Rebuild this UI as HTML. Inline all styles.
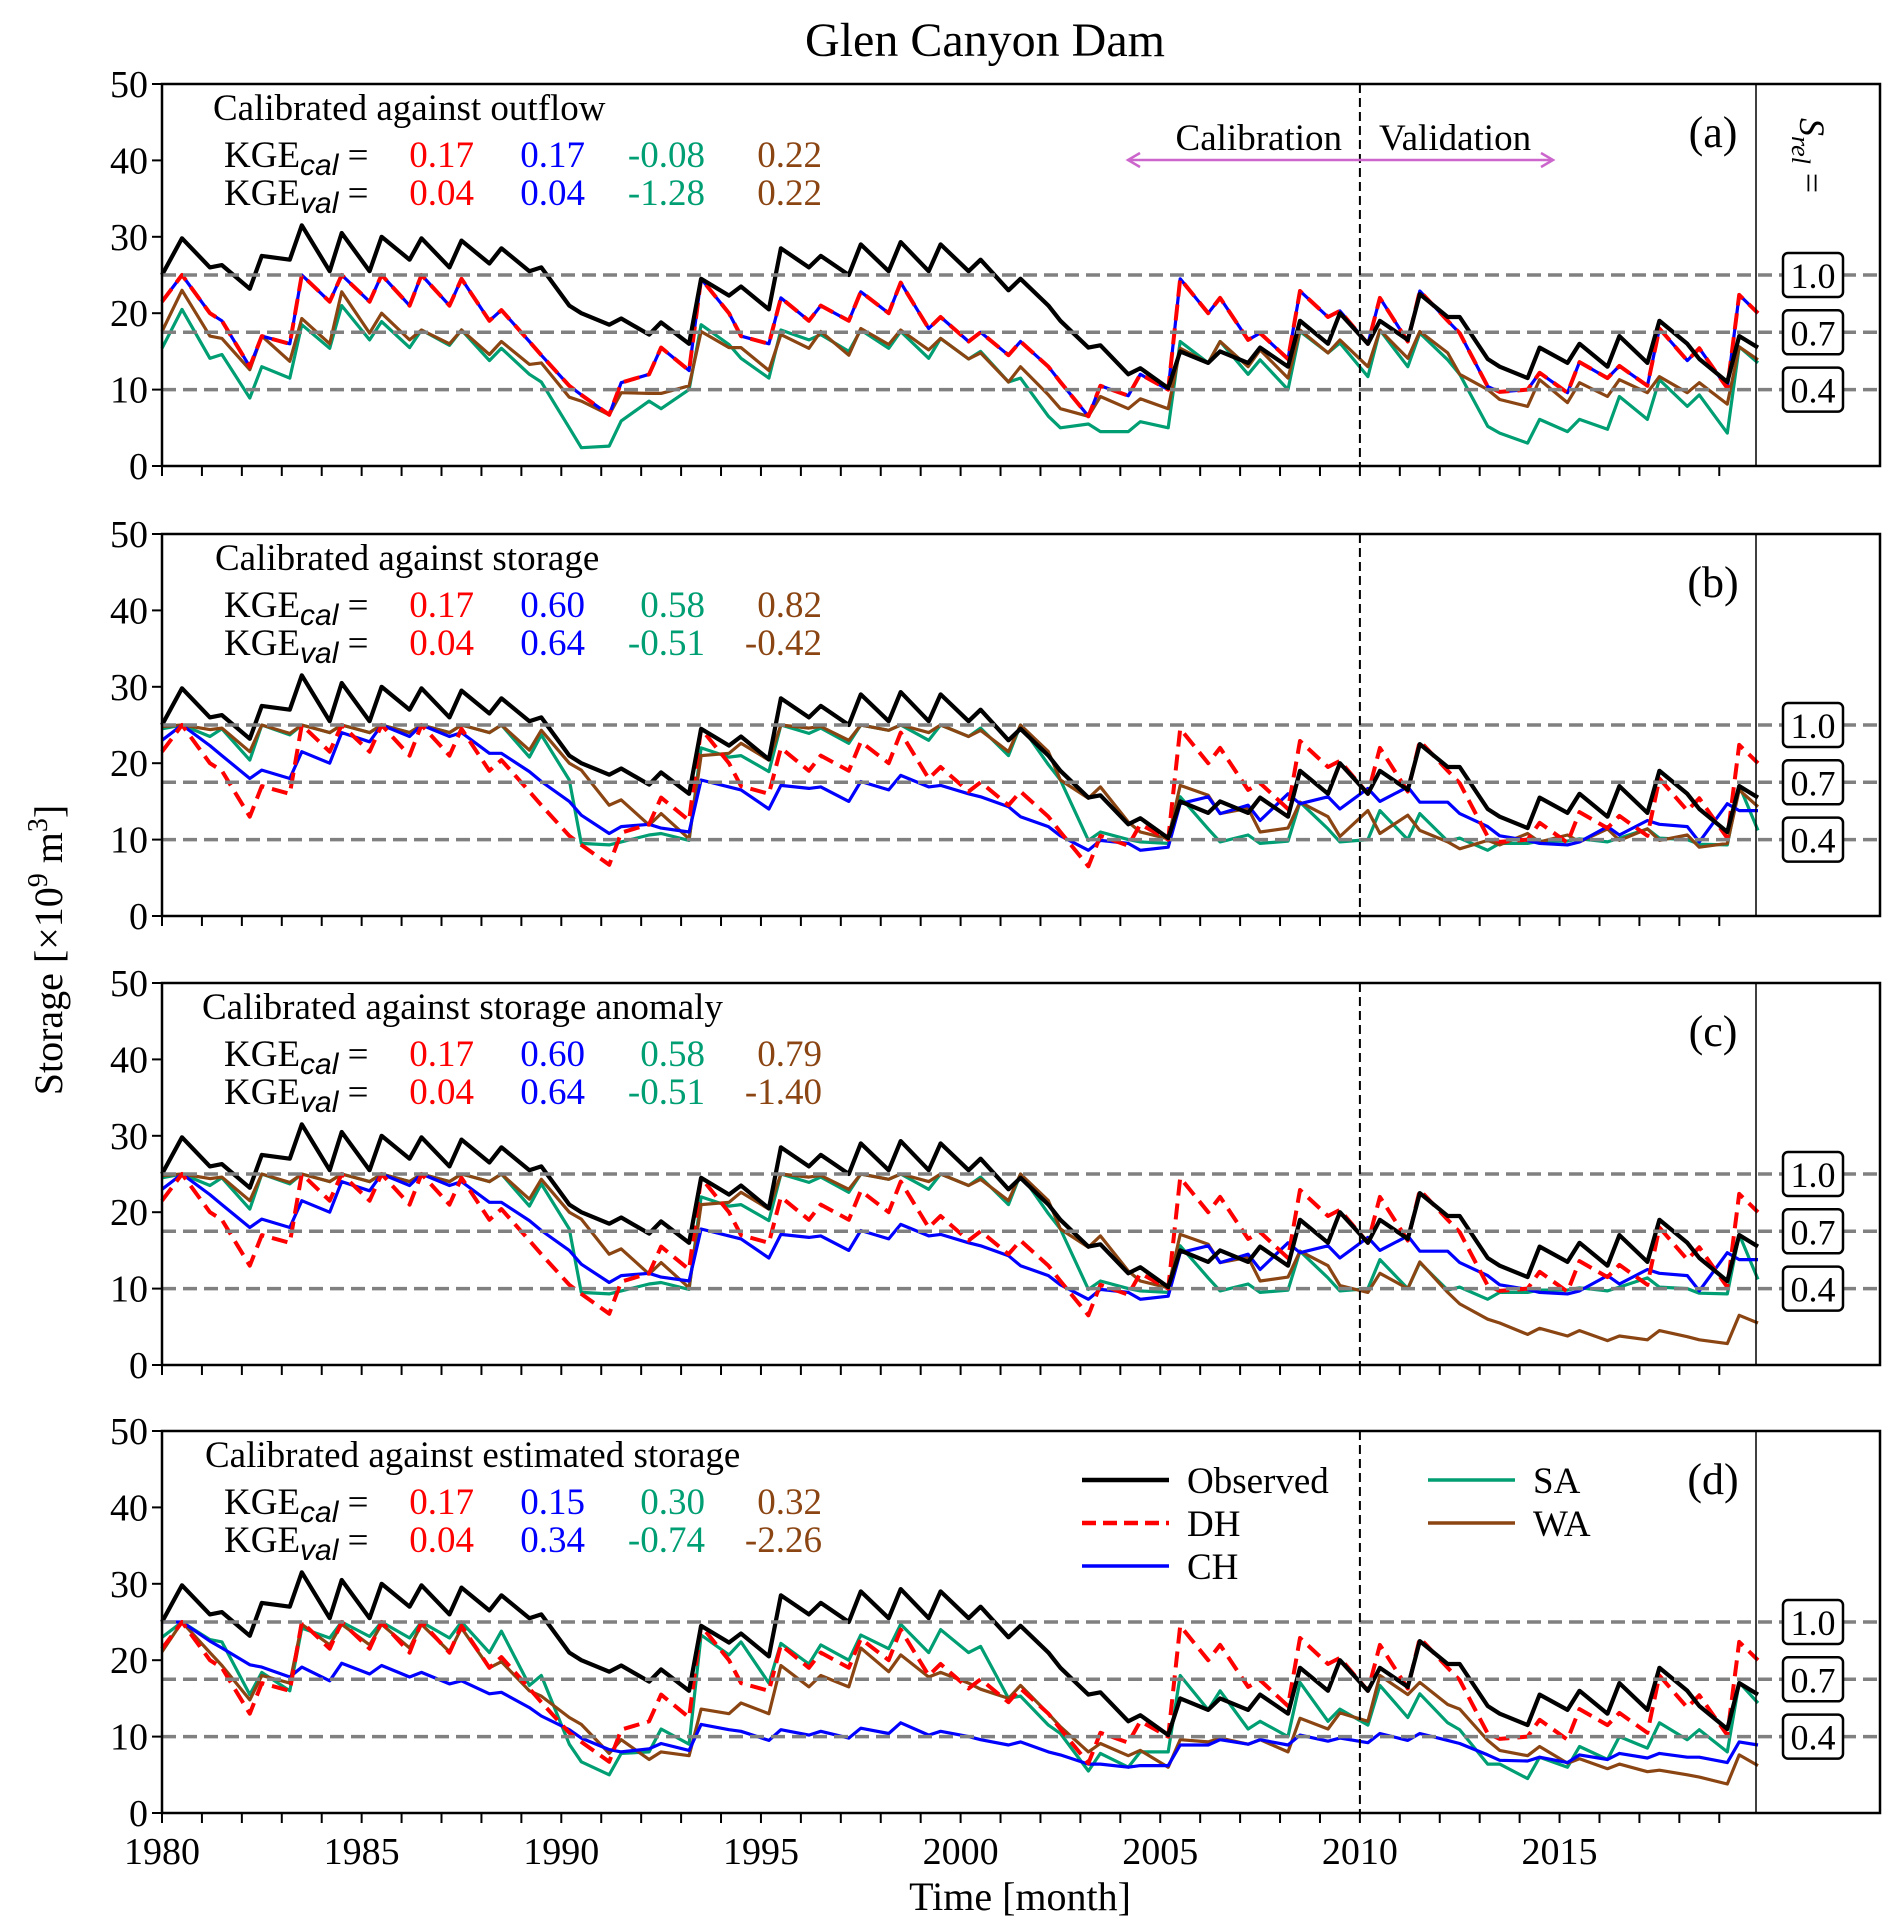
<!DOCTYPE html>
<html><head><meta charset="utf-8"><style>
html,body{margin:0;padding:0;background:#fff}
svg{display:block}
text{font-family:"Liberation Serif",serif;fill:#000}
</style></head><body>
<svg id="fig" width="1892" height="1932" viewBox="0 0 1892 1932" xmlns="http://www.w3.org/2000/svg">
<text x="985" y="56" font-size="48" text-anchor="middle">Glen Canyon Dam</text>
<text transform="translate(62,950) rotate(-90)" font-size="40" text-anchor="middle">Storage [×10<tspan baseline-shift="super" font-size="28">9</tspan> m<tspan baseline-shift="super" font-size="28">3</tspan>]</text>
<text x="1020" y="1910" font-size="40" text-anchor="middle">Time [month]</text>
<g id="panels"></g>
</svg>
<script>
const years = [1980,1981,1982,1983,1984,1985,1986,1987,1988,1989,1990,1991,1992,1993,1994,1995,1996,1997,1998,1999,2000,2001,2002,2003,2004,2005,2006,2007,2008,2009,2010,2011,2012,2013,2014,2015,2016,2017,2018,2019];
const xTickLabels = [1980,1985,1990,1995,2000,2005,2010,2015];
const yTickLabels = [0,10,20,30,40,50];
const srelValues = [25,17.5,10];
const srelLabels = ["1.0","0.7","0.4"];
const splitYear = 2010;

const obs = [25,29.8, 26,26.3, 23.2,27.5, 27,31.5, 25.5,30.5, 25.5,30, 27,29.8, 26,29.5, 26.5,28.5, 25.5,26, 21,20, 18.5,19.3, 17.2,18.8, 16,24.5, 22.3,23.5, 20.5,28.5, 26,27.5, 25,29, 25.5,29.3, 25.5,29, 25.5,27, 23,24.5, 21,19, 15.5,15.8, 12,12.8, 10.2,15, 13.5,15, 13.5,15.5, 13,19, 16,20, 16,19, 16.5,22.5, 19.5,19.5, 14,13, 11.5,15.5, 13.5,16, 13,17, 13.5,19, 16,14, 11,17, 15.5];
const dh = [21.5,25, 20,19, 13,17, 16,25, 21.5,25, 21.5,25, 21,25, 21,24.5, 19,20.4, 16.3,14.5, 10.5,9.3, 6.7,10.9, 12,15.5, 12.5,24.5, 20,17, 16,22, 19,21, 19,22.8, 20,24, 18,19.5, 16.3,17.5, 14.5,16.3, 13,11, 6.5,10.5, 9.2,12, 10,24.5, 20,22, 16.5,17.4, 14,22.9, 19.5,20.3, 16,22, 16.3,22.9, 19,17.4, 10.4,9.7, 10,12.2, 9.6,13.6, 11.5,13.1, 10.5,18, 13.8,15.4, 10.2,22.4, 20];
const chA = [21.5,25, 20,19, 13,17, 16,25, 21.5,25, 21.5,25, 21,25, 21,24.5, 19,20.4, 16.3,14.5, 10.5,9.3, 6.7,10.9, 12,15.5, 12.5,24.5, 20,17, 16,22, 19,21, 19,22.8, 20,24, 18,19.5, 16.3,17.5, 14.5,16.3, 13,11, 6.5,10.5, 9.2,12, 10,24.5, 20,22, 16.5,17.4, 14,22.9, 19.5,20.3, 16,22, 16.3,22.9, 19,17.4, 10.4,9.7, 10,12.2, 9.6,13.6, 11.5,13.1, 10.5,18, 13.8,15.4, 10.2,22.4, 20];
const saA = [15.4,20.5, 14.1,14.6, 8.9,13, 11.5,18.5, 15.4,21, 16.5,18.9, 15.5,17.8, 15.8,17.8, 13.8,15.4, 12,11, 5,2.4, 2.6,5.9, 8.5,7.5, 10,18.5, 15.9,14.1, 11.5,17.8, 16.5,17.2, 15,17.8, 15.4,17.6, 14.1,16.7, 14,15, 11,11.5, 6.5,5, 5.5,4.5, 4.5,5.8, 5,16.3, 13.5,16.3, 12,13.9, 10,17.6, 14.8,16.1, 11.7,17.8, 13,17.4, 13.9,12, 5.2,4.3, 3,6.1, 4.5,6.1, 4.8,9.1, 6.1,11.3, 7.8,9.3, 4.3,15.6, 13.5];
const waA = [17.6,23, 17,16.7, 12.6,17, 13.7,19.3, 16,22.8, 17.4,20, 16.5,17.8, 16,17.8, 14.6,16.3, 13.3,13.5, 9,8.5, 6.7,9.6, 9.5,9.5, 10.5,17.6, 15.5,15.5, 12.5,17.2, 15.4,17.6, 14.5,18, 15.9,17.8, 15.2,16.7, 14,14.8, 11,13, 9.3,7.5, 6.5,9.1, 7.5,8.8, 7.5,15.4, 13.5,16.3, 13,15.2, 11.5,17.8, 14.8,16.5, 13,17.8, 14.1,17.6, 14.8,12, 10,8.7, 7.8,11.3, 8.3,10.9, 9.1,11.3, 9.6,11.7, 9.6,10.9, 8.1,15.6, 13.9];
const chB = [23,25, 22.3,21, 18,19.1, 18,21.5, 20,24, 22.8,25, 23.5,25, 23.5,24, 21.3,21.3, 18.9,17.6, 15,13.2, 10.8,11.7, 12,11.5, 11,17.8, 16.9,16.5, 14,17.1, 16.7,16.9, 15,17.6, 16.5,18.4, 16.9,17.1, 16,15.6, 14.3,13, 11.7,10.5, 8.6,9.9, 9.5,8.6, 9,14.7, 15.6,13.4, 14.5,12.5, 16,14.7, 15.6,14, 16.7,15, 16.9,14.9, 14.9,13.4, 11.7,10.5, 9.9,9.5, 9.3,9.7, 11.7,10.6, 12.5,12, 11.7,9.7, 14.7,13.8, 13.8];
const saB = [24.5,25, 23.5,24.5, 20.4,25, 23.7,25, 24,25, 24,25, 24,25, 24,25, 24,25, 20.8,23.7, 17.8,9.5, 9.3,9.7, 10.6,10.8, 9.9,22, 20.8,21, 18.9,25, 23.9,24.6, 22.6,25, 24.3,25, 23,25, 23.5,24.6, 21,25, 19.8,17.8, 9.9,11, 10,9.7, 9.5,15.6, 11.4,9.7, 10.6,9.5, 9.8,14.9, 11.4,9.7, 10,13.8, 10,13.4, 9.8,10.2, 8.6,9.5, 9.5,9.8, 9.8,10.1, 9.7,10.2, 11.4,10.2, 10,9.4, 9.3,17.1, 11.2];
const waB = [24.8,25, 24.4,24.6, 21.5,25, 23.9,25, 24,25, 24,25, 24,25, 24,25, 24,25, 21.7,24.3, 20,19.1, 14.5,15.2, 11.9,13.4, 10.1,21, 21.3,22.6, 20.4,25, 24.6,24.8, 23,25, 24.3,25, 24,25, 23.5,24.3, 21.5,25, 21.5,17.8, 15.4,16.9, 12.3,11, 10.1,17.1, 15.8,13.4, 14.1,11, 11.5,14.9, 13,10.4, 13.8,10.8, 13.2,11.2, 9.7,8.8, 9.9,9.3, 10.8,9.7, 10.6,9.7, 11.4,9.9, 11.4,9.9, 10.6,9, 9.5,16.5, 14.3];
const chC = [23,25, 22.3,21, 18,19.1, 18,21.5, 20,24, 22.8,25, 23.5,25, 23.5,24, 21.3,21.3, 18.9,17.6, 15,13.2, 10.8,11.7, 12,11.5, 11,17.8, 16.9,16.5, 14,17.1, 16.7,16.9, 15,17.6, 16.5,18.4, 16.9,17.1, 16,15.6, 14.3,13, 11.7,10.5, 8.6,9.9, 9.5,8.6, 9,14.7, 15.6,13.4, 14.5,12.5, 16,14.7, 15.6,14, 16.7,15, 16.9,14.9, 14.9,13.4, 11.7,10.5, 9.9,9.5, 9.3,9.7, 11.7,10.6, 12.5,12, 11.7,9.7, 14.7,13.8, 13.8];
const saC = [24.5,25, 23.5,24.5, 20.4,25, 23.7,25, 24,25, 24,25, 24,25, 24,25, 24,25, 20.8,23.7, 17.8,9.5, 9.3,9.7, 10.6,10.8, 9.9,22, 20.8,21, 18.9,25, 23.9,24.6, 22.6,25, 24.3,25, 23,25, 23.5,24.6, 21,25, 19.8,17.8, 9.9,11, 10,9.7, 9.5,15.6, 11.4,9.7, 10.6,9.5, 9.8,14.9, 11.4,9.7, 10,13.8, 10,13.4, 9.8,10.2, 8.6,9.5, 9.5,9.8, 9.8,10.1, 9.7,10.2, 11.4,10.2, 10,9.4, 9.3,17.1, 11.2];
const waC = [24.8,25, 24.4,24.6, 21.5,25, 23.9,25, 24,25, 24,25, 24,25, 24,25, 24,25, 21.7,24.3, 20,19.1, 14.5,15.2, 11.9,13.4, 10.1,21, 21.3,22.6, 20.4,25, 24.6,24.8, 23,25, 24.3,25, 24,25, 23.5,24.3, 21.5,25, 21.5,17.8, 15.4,16.9, 12.3,11, 10.1,17.1, 15.8,13.4, 14.1,11, 11.5,14.9, 13,10.4, 9.5,12, 10,13.5, 9.5,8, 6,5.5, 4,4.8, 3.8,4.5, 3.2,3.8, 3.3,4.5, 3.7,3.3, 2.8,6.5, 5.5];
const chD = [25,25, 22.5,21.6, 19.4,19.1, 17.8,19.1, 17.3,19.6, 18.2,19.3, 17.8,18.4, 16.9,17.3, 15.6,15.8, 13.8,12.7, 10.9,9.8, 8.3,8, 8.4,9.1, 8.2,11.6, 10.9,10.7, 9.5,10.9, 10.2,10.7, 9.8,11.1, 10.4,11.8, 10.2,10.7, 10,9.6, 8.9,9.3, 8,7.6, 6.4,6.4, 6,6.2, 6.2,8.9, 8.9,9.6, 9,9.6, 8.9,10.2, 9.4,9.8, 9.2,10.4, 9.5,10.4, 9.5,9.1, 7.6,6.9, 6.8,7.3, 6.6,7.6, 7,7.8, 7.2,7.8, 7.3,7.3, 6.6,9.3, 8.9];
const saD = [23,25, 22.7,22.4, 15.5,18.4, 16,24.2, 22.9,25, 23.1,25, 22.9,25, 22.9,25, 21,23.8, 16.7,18, 9,6.7, 5,7.8, 8,11, 9,23.3, 20.7,22.4, 17,22.2, 19.5,22, 20,23.3, 21.5,24.7, 21,24, 21,21.8, 15,15.3, 11.5,10.4, 5.5,7.8, 6,8, 8,18, 13.5,16, 11,12, 10,17.1, 12,13.6, 11.5,16.7, 12.5,15.6, 11.8,10.9, 6.4,6.4, 4.5,7.3, 6,8.7, 7,10, 8.5,11.8, 9.6,10.9, 8,17.1, 14.4];
const waD = [21.1,25, 21,19.3, 14.8,18, 17,24.7, 22,24.7, 22,24.7, 21.6,24.7, 21.1,24.2, 19,19.8, 16,15.3, 12.5,11.6, 7.8,9.6, 7,8, 7.5,13.6, 13,14.4, 13,19.3, 16.5,18, 16.5,21.6, 18.5,20.7, 17.8,18.4, 17,16.2, 15,16.7, 13,11.3, 8,9.1, 7.5,8.2, 6,9.6, 9.3,9.8, 9,9.6, 8,12.4, 11,13.1, 12,18, 15.5,17.1, 14.2,13.6, 9.5,8.2, 7.5,8.7, 6.5,7.1, 5.8,6.4, 5.4,5.6, 5,4.7, 3.8,7.6, 6.2];

const kgeCalA = ["0.17","0.17","-0.08","0.22"], kgeValA = ["0.04","0.04","-1.28","0.22"];
const kgeCalB = ["0.17","0.60","0.58","0.82"], kgeValB = ["0.04","0.64","-0.51","-0.42"];
const kgeCalC = ["0.17","0.60","0.58","0.79"], kgeValC = ["0.04","0.64","-0.51","-1.40"];
const kgeCalD = ["0.17","0.15","0.30","0.32"], kgeValD = ["0.04","0.34","-0.74","-2.26"];

// layout
const X0 = 162, XR = 1756, XO = 1880, PXY = 39.93, PH = 382;
const COL = {obs:"#000000", dh:"#ff0000", ch:"#0000ff", sa:"#009e73", wa:"#8b4513"};
const NS = "http://www.w3.org/2000/svg";
function xs(t){ return X0 + (t - 1980) * PXY; }
function ys(v, top){ return top + (50 - v) * (PH / 50); }
const times = [];
years.forEach((y,i)=>{ times.push(i===0 ? y : y + 0.2); times.push(y + 0.5); });
times.push(2019.97);

function el(tag, attrs, parent){
  const e = document.createElementNS(NS, tag);
  for (const k in attrs) e.setAttribute(k, attrs[k]);
  parent.appendChild(e);
  return e;
}
function pathFor(vals, top){
  return vals.map((v,i)=>(i?"L":"M")+xs(times[i]).toFixed(1)+","+ys(v,top).toFixed(1)).join("");
}

const panels = [
  {id:"a", top:84, title:"Calibrated against outflow", tx:213, ch:chA, sa:saA, wa:waA, cal:kgeCalA, val:kgeValA, arrow:true},
  {id:"b", top:534, title:"Calibrated against storage", tx:215, ch:chB, sa:saB, wa:waB, cal:kgeCalB, val:kgeValB},
  {id:"c", top:983, title:"Calibrated against storage anomaly", tx:202, ch:chC, sa:saC, wa:waC, cal:kgeCalC, val:kgeValC},
  {id:"d", top:1431, title:"Calibrated against estimated storage", tx:205, ch:chD, sa:saD, wa:waD, cal:kgeCalD, val:kgeValD, legend:true, xlabels:true}
];
const root = document.getElementById("panels");
panels.forEach(p=>{
  const g = el("g", {}, root);
  
  
  const top = p.top, bot = top + PH;
  // series
  const series = [["sa", p.sa, COL.sa, 3.2, null],["wa", p.wa, COL.wa, 3.2, null],["ch", p.ch, COL.ch, 3.2, null],["dh", dh, COL.dh, 4, "16 8"],["obs", obs, COL.obs, 4.2, null]];
  series.forEach(s=>{
    const a = {d:pathFor(s[1], top), fill:"none", stroke:s[2], "stroke-width":s[3], "stroke-linejoin":"round"};
    if (s[4]) a["stroke-dasharray"] = s[4];
    const ln = el("path", a, g);
    
    
  });
  // srel ref lines
  srelValues.forEach((v,i)=>{
    const rl = el("line", {x1:X0, x2:XO, y1:ys(v,top), y2:ys(v,top), stroke:"#808080", "stroke-width":3.5, "stroke-dasharray":"14 7"}, g);
    
    
    const bx = el("rect", {x:1783, y:ys(v,top)-22, width:60, height:44, rx:5, fill:"#fff", stroke:"#000", "stroke-width":2.5}, g);
    
    
    const bt = el("text", {x:1813, y:ys(v,top)+13, "font-size":36, "text-anchor":"middle"}, g);
    bt.textContent = srelLabels[i];
    
    
  });
  // split line
  const vl = el("line", {x1:xs(splitYear), x2:xs(splitYear), y1:top, y2:bot, stroke:"#000", "stroke-width":2, "stroke-dasharray":"9 5"}, g);
  
  
  // frame
  const fr = el("rect", {x:X0, y:top, width:XO-X0, height:PH, fill:"none", stroke:"#000", "stroke-width":2.5}, g);
  
  
  const il = el("line", {x1:XR, x2:XR, y1:top, y2:bot, stroke:"#000", "stroke-width":1.5}, g);
  
  
  // y ticks
  yTickLabels.forEach(v=>{
    el("line", {x1:X0-10, x2:X0, y1:ys(v,top), y2:ys(v,top), stroke:"#000", "stroke-width":2}, g);
    const t = el("text", {x:148, y:ys(v,top)+13, "font-size":38, "text-anchor":"end"}, g);
    t.textContent = v;
    
    
  });
  // x ticks
  years.forEach(y=>{
    el("line", {x1:xs(y), x2:xs(y), y1:bot, y2:bot+10, stroke:"#000", "stroke-width":2}, g);
  });
  if (p.xlabels) xTickLabels.forEach(y=>{
    const t = el("text", {x:xs(y), y:1864, "font-size":38, "text-anchor":"middle"}, g);
    t.textContent = y;
    
    
  });
  // annotations
  const ti = el("text", {x:p.tx, y:top+36, "font-size":37}, g);
  ti.textContent = p.title;
  
  
  const pl = el("text", {x:1713, y:top+63, "font-size":44, "text-anchor":"middle"}, g);
  pl.textContent = "(" + p.id + ")";
  
  
  [["cal", p.cal, top+83], ["val", p.val, top+121]].forEach(r=>{
    const k = el("text", {x:224, y:r[2], "font-size":37}, g);
    k.innerHTML = 'KGE<tspan font-family="Liberation Sans, sans-serif" font-style="italic" font-size="30" dy="8">' + r[0] + '</tspan><tspan dy="-8"> =</tspan>';
    
    
    const xr = [474, 585, 705, 822], cs = [COL.dh, COL.ch, COL.sa, COL.wa];
    r[1].forEach((v,i)=>{
      const n = el("text", {x:xr[i], y:r[2], "font-size":37, "text-anchor":"end", style:"fill:"+cs[i]}, g);
      n.textContent = v;
      
      
    });
  });
  // S_rel rotated label
  const sr = el("text", {transform:"translate(1800,118) rotate(90)", "font-size":36, "font-family":"Liberation Sans, sans-serif"}, g);
  sr.innerHTML = '<tspan font-style="italic">S</tspan><tspan font-style="italic" font-size="26" dy="8">rel</tspan><tspan dy="-8"> =</tspan>';
  
  
  if (p.id !== "a") sr.setAttribute("visibility","hidden");
  if (p.arrow){
    const ac = "#cc66cc";
    const ar = el("line", {x1:1128, x2:1553, y1:160, y2:160, stroke:ac, "stroke-width":2.5}, g);
    
    
    el("polyline", {points:"1140,153 1128,160 1140,167", fill:"none", stroke:ac, "stroke-width":2.5}, g);
    el("polyline", {points:"1541,153 1553,160 1541,167", fill:"none", stroke:ac, "stroke-width":2.5}, g);
    const c1 = el("text", {x:1342, y:150, "font-size":37, "text-anchor":"end"}, g);
    c1.textContent = "Calibration";
    
    
    const c2 = el("text", {x:1379, y:150, "font-size":37}, g);
    c2.textContent = "Validation";
    
    
  }
  if (p.legend){
    const items = [["Observed", COL.obs, null, 1082, 1480, 4.5],["DH", COL.dh, "14 7", 1082, 1523, 4.5],["CH", COL.ch, null, 1082, 1566, 3.5],["SA", COL.sa, null, 1428, 1480, 3.5],["WA", COL.wa, null, 1428, 1523, 3.5]];
    items.forEach(it=>{
      const a = {x1:it[3], x2:it[3]+87, y1:it[4], y2:it[4], stroke:it[1], "stroke-width":it[5]};
      if (it[2]) a["stroke-dasharray"] = it[2];
      const ll = el("line", a, g);
      
      
      const lt = el("text", {x:it[3]+105, y:it[4]+13, "font-size":37}, g);
      lt.textContent = it[0];
      
      
    });
  }
});
</script>
</body></html>
